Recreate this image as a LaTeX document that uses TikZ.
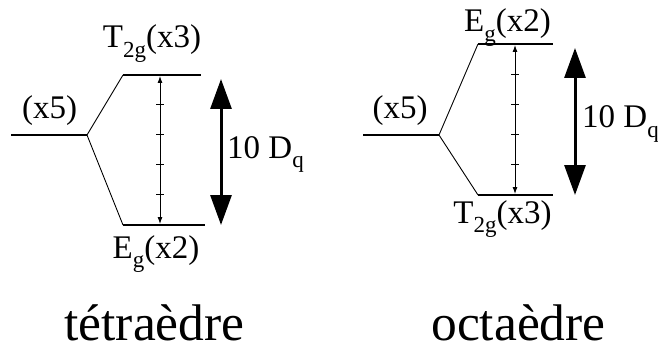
\documentclass[tikz,border=0pt]{standalone}
\usepackage{fontspec}
\setmainfont{Liberation Serif}
\usetikzlibrary{arrows.meta}
\newcommand{\lsub}[1]{\raisebox{-0.28em}{\fontsize{23}{23}\selectfont #1}}
\tikzset{
  x=1pt, y=-1pt,
  level/.style={line width=2.6pt},
  branch/.style={line width=0.9pt},
  thin/.style={line width=0.9pt, {Latex[length=7pt,width=5pt]}-{Latex[length=7pt,width=5pt]}},
  big/.style={line width=3pt, {Triangle[length=30pt,width=21pt]}-{Triangle[length=30pt,width=21pt]}},
  tick/.style={line width=0.7pt},
  lbl/.style={inner sep=0pt, font=\fontsize{33}{33}\selectfont},
  title/.style={inner sep=0pt, font=\fontsize{51.5}{51.5}\selectfont}
}
\begin{document}
\begin{tikzpicture}
\useasboundingbox (0,0) rectangle (658,350);
% ---- tetraedre ----
\coordinate (a0) at (11,135);
\coordinate (a1) at (87,135);
\coordinate (au0) at (123,75);
\coordinate (au1) at (201,75);
\coordinate (al0) at (123,225);
\coordinate (al1) at (205,225);
\draw[level] (a0) -- (a1);
\draw[level] (au0) -- (au1);
\draw[level] (al0) -- (al1);
\draw[branch] (au0) -- (a1) -- (al0);
\coordinate (at) at (160,76);
\coordinate (ab) at (160,224);
\draw[thin] (at) -- (ab);
\foreach \y in {104,134,164,194} \draw[tick] (156,\y) -- (164,\y);
\coordinate (bt) at (221,79);
\coordinate (bb) at (221,225);
\draw[big] (bt) -- (bb);
\node[lbl, anchor=base] (ax5) at (49.5,118) {(x5)};
\node[lbl, anchor=base] (aT) at (152,48) {T\lsub{2g}(x3)};
\node[lbl, anchor=base] (aE) at (156,258) {E\lsub{g}(x2)};
\node[lbl, anchor=base west] (aD) at (227,158) {10 D\lsub{q}};
\node[title, anchor=base] (tet) at (154.5,340) {tétraèdre};
% ---- octaedre ----
\coordinate (b0) at (363,135);
\coordinate (b1) at (439,135);
\coordinate (bu0) at (478,44);
\coordinate (bu1) at (553,44);
\coordinate (bl0) at (478,195);
\coordinate (bl1) at (553,195);
\draw[level] (b0) -- (b1);
\draw[level] (bu0) -- (bu1);
\draw[level] (bl0) -- (bl1);
\draw[branch] (bu0) -- (b1) -- (bl0);
\coordinate (ct) at (515,45);
\coordinate (cb) at (515,194);
\draw[thin] (ct) -- (cb);
\foreach \y in {74,104,134,164} \draw[tick] (511,\y) -- (519,\y);
\coordinate (dt) at (575,48);
\coordinate (db) at (575,195);
\draw[big] (dt) -- (db);
\node[lbl, anchor=base] (bx5) at (400,118) {(x5)};
\node[lbl, anchor=base] (bE) at (507.5,32) {E\lsub{g}(x2)};
\node[lbl, anchor=base] (bT) at (502.5,223) {T\lsub{2g}(x3)};
\node[lbl, anchor=base west] (bD) at (582,128) {10 D\lsub{q}};
\node[title, anchor=base] (oct) at (518.5,340) {octaèdre};
\end{tikzpicture}
\end{document}
